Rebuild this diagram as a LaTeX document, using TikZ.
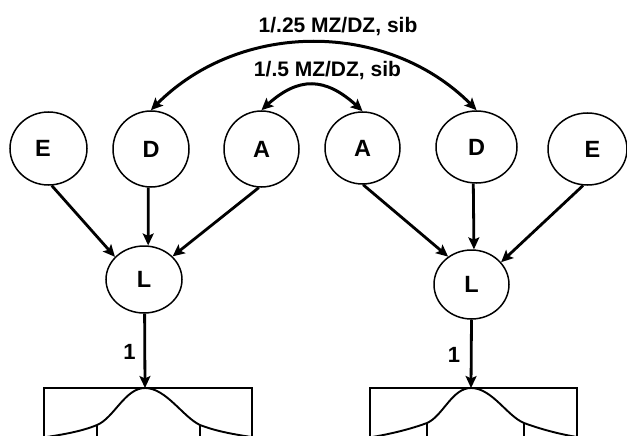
\documentclass[tikz,border=0pt]{standalone}
\usepackage{fontspec}
\setmainfont{Liberation Sans}
\usetikzlibrary{arrows.meta,bending,shapes.geometric}

\tikzset{
  lettr/.style={font=\bfseries\fontsize{23.5}{24}\selectfont, inner sep=0pt},
  var/.style={draw, ellipse, line width=1.5pt, inner sep=0pt, lettr},
  loading/.style={line width=2.8pt, -{Stealth[length=12pt,width=11pt,inset=2.5pt]}},
  corr/.style={line width=3pt, {Stealth[length=12pt,width=11pt,inset=2.5pt,bend]}-{Stealth[length=12pt,width=11pt,inset=2.5pt,bend]}},
  corrlabel/.style={font=\bfseries\fontsize{21}{22}\selectfont, inner sep=0pt, anchor=base},
  onelabel/.style={font=\bfseries\fontsize{22}{22}\selectfont, inner sep=0pt, anchor=base},
  frame/.style={line width=1.6pt},
  bell/.style={line width=1.9pt}
}

\begin{document}
\begin{tikzpicture}[x=1pt,y=-1pt]
\useasboundingbox (0,0) rectangle (627,436);
\clip (0,0) rectangle (627,436);

% first member: latent variables
\node[var, minimum width=77pt, minimum height=73pt,
      label={[lettr,xshift=-5.5pt]center:E}] (El) at (48.5,148.5) {};
\node[var, minimum width=76pt, minimum height=76pt] (Dl) at (151,149) {D};
\node[var, minimum width=75pt, minimum height=76pt] (Al) at (261.5,149) {A};
\node[var, minimum width=76pt, minimum height=67pt] (Ll) at (144,279.5) {L};

% second member: latent variables
\node[var, minimum width=75pt, minimum height=72pt] (Ar) at (362.5,148) {A};
\node[var, minimum width=81pt, minimum height=72pt] (Dr) at (476.5,147) {D};
\node[var, minimum width=79pt, minimum height=72pt,
      label={[lettr,xshift=5pt]center:E}] (Er) at (587.5,149) {};
\node[var, minimum width=75pt, minimum height=69pt] (Lr) at (471.5,284.5) {L};

% paths into the liabilities
\draw[loading] (El.-85) -- (Ll.142);
\draw[loading] (Dl.-94) -- (Ll.83);
\draw[loading] (Al.-94) -- (Ll.39);
\draw[loading] (Ar.-89) -- (Lr.130);
\draw[loading] (Dr.-95) -- (Lr.86);
\draw[loading] (Er.-97) -- (Lr.37);

% twin correlations
\draw[corr] (Dl.north) .. controls +(84,-92) and +(-84,-92) .. (Dr.north);
\draw[corr] (Al.north) .. controls +(36,-36) and +(-36,-36) .. (Ar.north);
\node[corrlabel] (rD) at (338,33) {1/.25 MZ/DZ, sib};
\node[corrlabel] (rA) at (327.5,77) {1/.5 MZ/DZ, sib};

% liability distributions
\coordinate (topL) at (145,388);
\coordinate (topR) at (471,388);
\draw[frame] (44,450) -- (44,388) -- (252,388) -- (252,450);
\draw[frame] (370,450) -- (370,388) -- (577,388) -- (577,450);

\draw[bell] (40,438) .. controls (60,435) and (80,432) .. (97,425)
  .. controls (114,418) and (125,388) .. (topL)
  .. controls (166,388) and (183,417) .. (200,425)
  .. controls (218,432) and (238,435) .. (258,438);
\draw[frame] (97,425) -- (97,440);
\draw[frame] (200,425) -- (200,440);

\draw[bell] (366,438) .. controls (386,435) and (408,430) .. (427,423)
  .. controls (443,416) and (452,388) .. (topR)
  .. controls (492,388) and (507,416) .. (524,423)
  .. controls (543,430) and (563,435) .. (583,438);
\draw[frame] (427,423) -- (427,440);
\draw[frame] (524,423) -- (524,440);

% thresholds loadings
\draw[loading] (Ll.-89) -- (topL);
\draw[loading] (Lr.south) -- (topR);
\node[onelabel] (oneL) at (129.5,359) {1};
\node[onelabel] (oneR) at (454,362) {1};
\end{tikzpicture}
\end{document}
